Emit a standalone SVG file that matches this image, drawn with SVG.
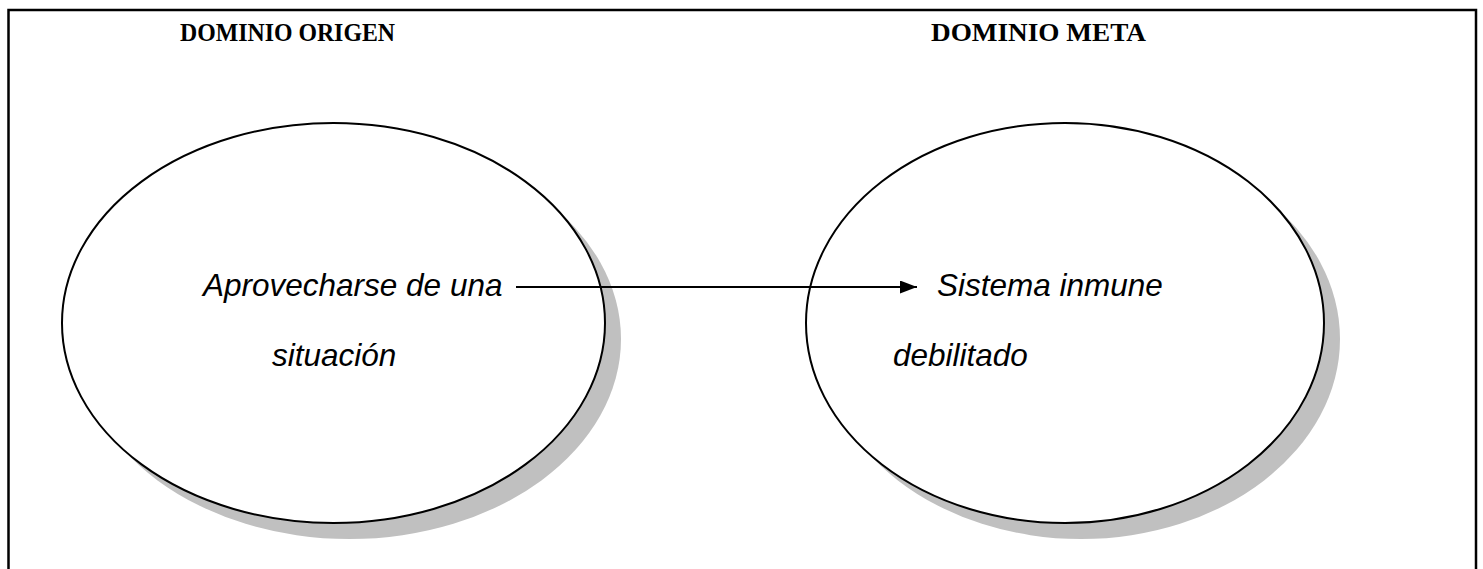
<svg xmlns="http://www.w3.org/2000/svg" width="1483" height="569" viewBox="0 0 1483 569">
<style>
.title{font-family:"Liberation Serif","Times New Roman",serif;font-weight:bold;font-size:26px;fill:#000}
.lbl{font-family:"Liberation Sans",Arial,sans-serif;font-style:italic;font-size:31.5px;fill:#000}
.shadow{fill:#c0c0c0;stroke:none}
.ell{fill:#fff;stroke:#000;stroke-width:2}
</style>
<defs>
<marker id="ah" markerWidth="17" markerHeight="13" refX="17" refY="6.5" orient="auto" markerUnits="userSpaceOnUse">
<path d="M0,0 L17,6.5 L0,13 Z" fill="#000"/>
</marker>
</defs>
<rect x="8.5" y="10" width="1467.5" height="570" fill="#fff" stroke="#000" stroke-width="2.5"/>
<text class="title" x="180" y="41" textLength="215" lengthAdjust="spacingAndGlyphs">DOMINIO ORIGEN</text>
<text class="title" x="931" y="41" textLength="215" lengthAdjust="spacingAndGlyphs">DOMINIO META</text>
<g id="node-origen">
<ellipse class="shadow" cx="349.5" cy="339" rx="271.5" ry="200"/>
<ellipse class="ell" cx="333.5" cy="323" rx="271.5" ry="200"/>
<text class="lbl" x="203" y="296">Aprovecharse de una</text>
<text class="lbl" x="272" y="366">situación</text>
</g>
<g id="node-meta">
<ellipse class="shadow" cx="1081" cy="339" rx="259" ry="200"/>
<ellipse class="ell" cx="1065" cy="323" rx="259" ry="200"/>
<text class="lbl" x="937" y="296">Sistema inmune</text>
<text class="lbl" x="893" y="366">debilitado</text>
</g>
<g id="connectors">
<line x1="516" y1="287" x2="917" y2="287" stroke="#000" stroke-width="2" marker-end="url(#ah)"/>
</g>
</svg>
